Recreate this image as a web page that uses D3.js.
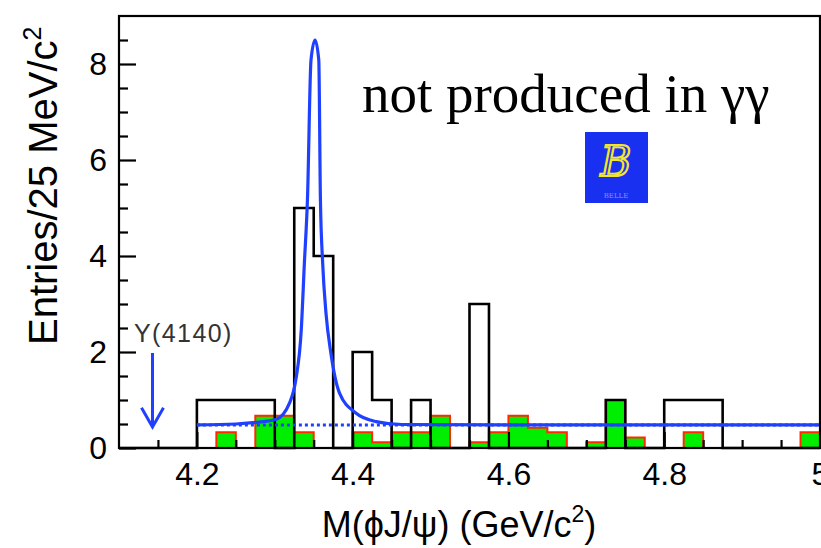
<!DOCTYPE html>
<html>
<head>
<meta charset="utf-8">
<script src="https://cdn.jsdelivr.net/npm/d3@7"></script>
<style>
  html, body { margin: 0; padding: 0; background: #fff; }
  svg { display: block; }
</style>
</head>
<body>
<script>
// Histogram binning (GeV/c^2)
const binStart = 4.1;
const binWidth = 0.025;

// Signal-region entries per 25 MeV bin, 4.100 ... 4.975
const signalCounts = [0, 0, 0, 0, 1, 1, 1, 1, 0, 5, 4, 0, 2, 1, 0, 1, 0, 0,
                      3, 0, 0, 0, 0, 0, 0, 1, 0, 0, 1, 1, 1, 0, 0, 0, 0, 0];

// Scaled sideband (green) per bin
const sidebandCounts = [0, 0, 0, 0, 0, 0.33, 0, 0.67, 0.67, 0.33, 0, 0, 0.33, 0.12, 0.33, 0.33, 0.67, 0,
                        0.12, 0.33, 0.67, 0.42, 0.33, 0, 0.12, 1, 0.22, 0, 0, 0.33, 0, 0, 0, 0, 0, 0.33];

// Fit curve
const fitMass = [4.200, 4.250, 4.280, 4.302, 4.319, 4.327, 4.334, 4.338, 4.342, 4.3465, 4.3517,
                 4.3565, 4.3586, 4.3615, 4.3658, 4.372, 4.383, 4.404, 4.430, 4.463, 4.600, 5.000];
const fitValue = [0.48, 0.50, 0.54, 0.60, 0.94, 1.42, 2.46, 3.85, 5.20, 8.08, 8.50,
                  8.08, 5.17, 3.85, 2.80, 1.98, 1.15, 0.73, 0.55, 0.49, 0.48, 0.48];

// Background component (dotted)
const bgMass = [4.2, 5.0];
const bgValue = [0.48, 0.48];

// Axis ticks
const xMajorTicks = [4.2, 4.4, 4.6, 4.8, 5.0];
const xMinorTicks = [4.15, 4.25, 4.3, 4.35, 4.45, 4.5, 4.55, 4.65, 4.7, 4.75, 4.85, 4.9, 4.95];
const yMajorTicks = [0, 2, 4, 6, 8];
const yMinorTicks = [0.5, 1, 1.5, 2.5, 3, 3.5, 4.5, 5, 5.5, 6.5, 7, 7.5, 8.5];

// Y(4140) marker
const y4140Mass = 4.143;

const width = 821, height = 548;
const blue = "#2040ff";
const sans = "'Liberation Sans', Arial, Helvetica, sans-serif";

const x = d3.scaleLinear().domain([4.1, 5.0]).range([119, 820]);
const y = d3.scaleLinear().domain([0, 9]).range([448, 16]);

const svg = d3.select("body").append("svg")
    .attr("width", width)
    .attr("height", height);

// step points for a histogram
function steps(counts) {
    const pts = [];
    counts.forEach((v, i) => {
        const lo = binStart + i * binWidth;
        pts.push([lo, v], [lo + binWidth, v]);
    });
    return pts;
}

const stepLine = d3.line().x(d => x(d[0])).y(d => y(d[1]));
const stepArea = d3.area().x(d => x(d[0])).y0(y(0)).y1(d => y(d[1]));

// sideband: green fill with red outline
const sb = steps(sidebandCounts);
svg.append("path")
    .attr("d", stepArea(sb))
    .attr("fill", "#00ee00");
svg.append("path")
    .attr("d", stepLine(sb))
    .attr("fill", "none")
    .attr("stroke", "#ff2a00")
    .attr("stroke-width", 2);

// axes (ticks point inward)
function styleAxis(g) {
    g.select(".domain").remove();
    g.selectAll("line").attr("stroke", "#000").attr("stroke-width", 2.2);
    g.selectAll("text")
        .attr("font-family", sans)
        .attr("font-size", 32)
        .attr("fill", "#000");
}

svg.append("g")
    .attr("transform", `translate(0,${y(0)})`)
    .call(d3.axisBottom(x).tickValues(xMinorTicks).tickSize(-8).tickFormat(""))
    .call(styleAxis);
svg.append("g")
    .attr("transform", `translate(0,${y(0)})`)
    .call(d3.axisBottom(x).tickValues(xMajorTicks).tickSize(-16).tickPadding(14)
        .tickFormat(d => d === 5 ? "5" : d3.format(".1f")(d)))
    .call(styleAxis);

svg.append("g")
    .attr("transform", `translate(${x(4.1)},0)`)
    .call(d3.axisLeft(y).tickValues(yMinorTicks).tickSize(-9).tickFormat(""))
    .call(styleAxis);
svg.append("g")
    .attr("transform", `translate(${x(4.1)},0)`)
    .call(d3.axisLeft(y).tickValues(yMajorTicks).tickSize(-17).tickPadding(12).tickFormat(d3.format("d")))
    .call(styleAxis);

// signal histogram
svg.append("path")
    .attr("d", stepLine(steps(signalCounts)))
    .attr("fill", "none")
    .attr("stroke", "#000")
    .attr("stroke-width", 2.6);

// background dotted line
svg.append("path")
    .attr("d", d3.line().x(d => x(d[0])).y(d => y(d[1]))(bgMass.map((m, i) => [m, bgValue[i]])))
    .attr("fill", "none")
    .attr("stroke", blue)
    .attr("stroke-width", 3)
    .attr("stroke-dasharray", "3,3");

// fit curve
svg.append("path")
    .attr("d", d3.line().curve(d3.curveMonotoneX)
        .x(d => x(d[0])).y(d => y(d[1]))(fitMass.map((m, i) => [m, fitValue[i]])))
    .attr("fill", "none")
    .attr("stroke", blue)
    .attr("stroke-width", 3.2)
    .attr("stroke-linejoin", "round");

// frame
svg.append("rect")
    .attr("x", x(4.1)).attr("y", y(9))
    .attr("width", x(5.0) - x(4.1)).attr("height", y(0) - y(9))
    .attr("fill", "none")
    .attr("stroke", "#000")
    .attr("stroke-width", 2.2);

// Y(4140) arrow and label
const ax = x(y4140Mass);
svg.append("line")
    .attr("x1", ax).attr("x2", ax)
    .attr("y1", y(1.98)).attr("y2", y(0.46))
    .attr("stroke", blue).attr("stroke-width", 3);
svg.append("polyline")
    .attr("points", [[ax - 11, y(0.84)], [ax, y(0.44)], [ax + 11, y(0.84)]].join(" "))
    .attr("fill", "none")
    .attr("stroke", blue).attr("stroke-width", 3)
    .attr("stroke-linejoin", "miter");
svg.append("text")
    .attr("x", 134).attr("y", 342)
    .attr("font-family", sans)
    .attr("font-size", 25)
    .attr("letter-spacing", 1.4)
    .attr("fill", "#333")
    .text("Y(4140)");

// annotation
svg.append("text")
    .attr("x", 362).attr("y", 112)
    .attr("font-family", "'Liberation Serif', 'Times New Roman', serif")
    .attr("font-size", 55)
    .attr("fill", "#000")
    .text("not produced in γγ");

// Belle logo
const logo = svg.append("g").attr("transform", "translate(585,132)");
logo.append("rect").attr("width", 63).attr("height", 71).attr("fill", "#1a30f0");
logo.append("text")
    .attr("x", 31).attr("y", 44)
    .attr("text-anchor", "middle")
    .attr("font-family", "'DejaVu Serif', serif")
    .attr("font-style", "italic")
    .attr("font-size", 42)
    .attr("fill", "none")
    .attr("stroke", "#f2e62a")
    .attr("stroke-width", 2.2)
    .text("B");
logo.append("text")
    .attr("x", 31).attr("y", 66)
    .attr("text-anchor", "middle")
    .attr("font-family", "'DejaVu Serif', serif")
    .attr("font-size", 7)
    .attr("fill", "#8a8aff")
    .text("BELLE");

// axis titles
svg.append("text")
    .attr("transform", "translate(57,345) rotate(-90)")
    .attr("text-anchor", "start")
    .attr("font-family", sans)
    .attr("font-size", 40)
    .attr("fill", "#000")
    .call(t => {
        t.append("tspan").text("Entries/25 MeV/c");
        t.append("tspan").attr("dy", -16).attr("font-size", 25).text("2");
    });

svg.append("text")
    .attr("x", 459).attr("y", 537)
    .attr("text-anchor", "middle")
    .attr("font-family", sans)
    .attr("font-size", 36)
    .attr("fill", "#000")
    .call(t => {
        t.append("tspan").text("M(ϕJ/ψ) (GeV/c");
        t.append("tspan").attr("dy", -15).attr("font-size", 23).text("2");
        t.append("tspan").attr("dy", 15).text(")");
    });
</script>
</body>
</html>
